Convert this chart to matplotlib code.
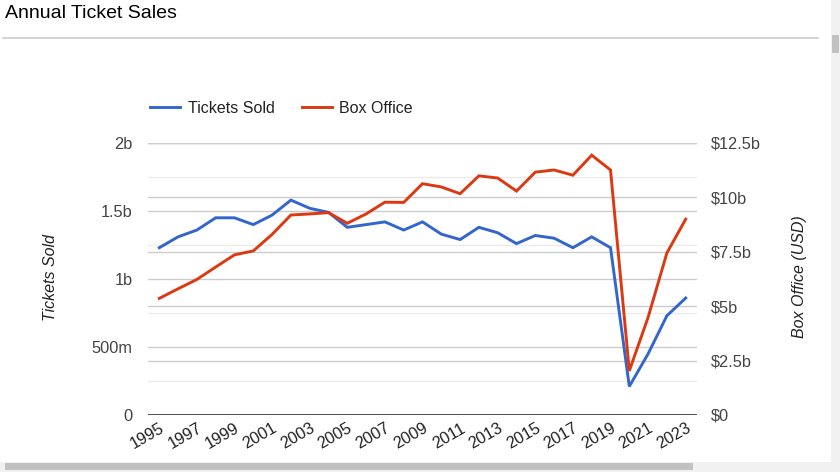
import matplotlib.pyplot as plt
from matplotlib.patches import Rectangle
from matplotlib.ticker import FixedLocator, FuncFormatter

plt.rcParams['font.family'] = ['Liberation Sans', 'DejaVu Sans']

# Data
years = list(range(1995, 2024))
tickets_b = [1.23, 1.31, 1.36, 1.45, 1.45, 1.40, 1.47, 1.58, 1.52, 1.49,
             1.38, 1.40, 1.42, 1.36, 1.42, 1.33, 1.29, 1.38, 1.34, 1.26,
             1.32, 1.30, 1.23, 1.31, 1.23, 0.21, 0.45, 0.73, 0.86]   # billions
box_office_b = [5.36, 5.80, 6.23, 6.80, 7.36, 7.54, 8.30, 9.19, 9.24, 9.30,
                8.81, 9.24, 9.78, 9.77, 10.63, 10.48, 10.17, 10.99, 10.89, 10.29,
                11.16, 11.26, 11.02, 11.94, 11.26, 2.03, 4.49, 7.45, 9.00]  # $ billions

left_ticks = [0, 0.5, 1, 1.5, 2]
left_labels = ['0', '500m', '1b', '1.5b', '2b']
left_minor = [0.25, 0.75, 1.25, 1.75]
right_ticks = [0, 2.5, 5, 7.5, 10, 12.5]
right_labels = ['$0', '$2.5b', '$5b', '$7.5b', '$10b', '$12.5b']
year_ticks = years[::2]

BLUE = '#3366cc'
RED = '#dc3912'
W, H = 840, 472

fig = plt.figure(figsize=(W / 100, H / 100), dpi=100)
ax1 = fig.add_axes([148 / W, 1 - 415 / H, (697 - 148) / W, (415 - 143) / H])
ax2 = ax1.twinx()

# ax1 sits on top so that both lines are drawn over every gridline
ax1.set_zorder(2)
ax1.patch.set_visible(False)
ax2.set_zorder(1)

ax1.set_xlim(1994.4, 2023.6)
ax1.set_ylim(0, 2)
ax2.set_ylim(0, 12.5)

line_t, = ax1.plot(years, tickets_b, color=BLUE, lw=2.1, label='Tickets Sold',
                   solid_joinstyle='miter', zorder=3)
line_b, = ax1.plot(years, box_office_b, color=RED, lw=2.1, label='Box Office',
                   transform=ax2.transData, solid_joinstyle='miter', zorder=3)

# left axis: major + lighter minor gridlines
ax1.yaxis.set_major_locator(FixedLocator(left_ticks))
ax1.yaxis.set_major_formatter(FuncFormatter(lambda v, p: left_labels[left_ticks.index(v)]
                                            if v in left_ticks else ''))
ax1.yaxis.set_minor_locator(FixedLocator(left_minor))
ax1.grid(True, axis='y', which='major', color='#cccccc', lw=1)
ax1.grid(True, axis='y', which='minor', color='#ebebeb', lw=1)
ax1.axhline(0, color='#333333', lw=1.2, zorder=2.5)

# right axis
ax2.yaxis.set_major_locator(FixedLocator(right_ticks))
ax2.yaxis.set_major_formatter(FuncFormatter(lambda v, p: right_labels[right_ticks.index(v)]
                                            if v in right_ticks else ''))
ax2.grid(True, axis='y', color='#cccccc', lw=1)

ax1.set_xticks(year_ticks)
ax1.set_xticklabels([str(y) for y in year_ticks], rotation=30, ha='right',
                    rotation_mode='anchor', fontsize=11.8, color='#222222')

for ax in (ax1, ax2):
    for s in ax.spines.values():
        s.set_visible(False)
    ax.tick_params(length=0, labelsize=11.8, labelcolor='#444444')
ax1.tick_params(axis='x', pad=4, labelcolor='#222222')
ax1.tick_params(axis='y', which='both', length=0, pad=11)
ax2.tick_params(axis='y', pad=10)

ax1.set_ylabel('Tickets Sold', fontsize=11.5, style='italic', color='#222222')
ax2.set_ylabel('Box Office (USD)', fontsize=11.5, style='italic', color='#222222')
ax1.yaxis.set_label_coords(-0.177, 0.505)
ax2.yaxis.set_label_coords(1.187, 0.51)
ax1.yaxis.label.set_va('center')
ax2.yaxis.label.set_va('center')

fig.legend(handles=[line_t, line_b], loc='center left',
           bbox_to_anchor=(150 / W, 1 - 108.5 / H), frameon=False, ncol=2,
           fontsize=11.5, handlelength=1.9, handletextpad=0.45, columnspacing=1.7,
           borderpad=0, borderaxespad=0, labelcolor='#222222')

# page title and divider
fig.text(5 / W, 1 - 13 / H, 'Annual Ticket Sales', fontsize=14, va='center', ha='left')
fig.add_artist(plt.Line2D([3 / W, 818 / W], [1 - 37.5 / H] * 2, color='#cccccc', lw=1.2))

# browser scrollbars
fig.add_artist(Rectangle((831 / W, 10 / H), 9 / W, 1 - 10 / H, color='#f1f1f1', lw=0))
fig.add_artist(Rectangle((832 / W, 1 - 53 / H), 7 / W, 18 / H, color='#c1c1c1', lw=0))
fig.add_artist(Rectangle((0, 0), 1, 10 / H, color='#f1f1f1', lw=0))
fig.add_artist(Rectangle((5 / W, 2 / H), (693 - 5) / W, 7 / H, color='#c1c1c1', lw=0))

fig.savefig('out.png', dpi=100)
